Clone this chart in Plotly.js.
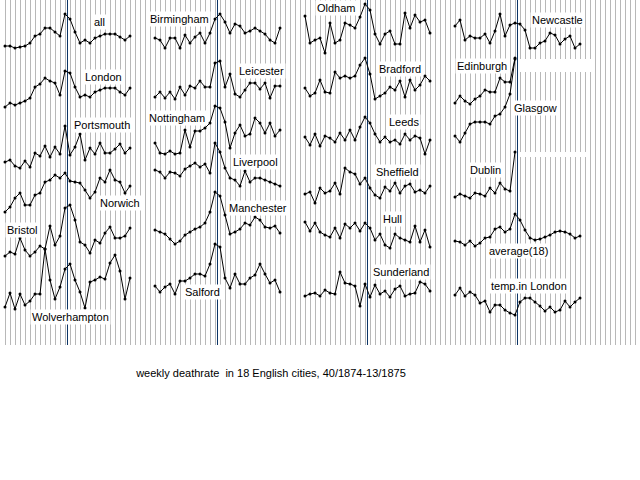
<!DOCTYPE html>
<html>
<head>
<meta charset="utf-8">
<script src="https://cdn.plot.ly/plotly-3.0.1.min.js"></script>
<style>html,body{margin:0;padding:0;background:#fff;}#chart{width:640px;height:480px;}</style>
</head>
<body>
<div id="chart"></div>
<script>
// weeks 40/1874 .. 13/1875
const weeks = ['40','41','42','43','44','45','46','47','48','49','50','51','52','1','2','3','4','5','6','7','8','9','10','11','12','13'];

// relative weekly death-rate levels (common scale)
const all = [2,2,0,1,2,5,12,14,20,20,16,12,34,29,16,5,8,5,10,12,14,14,14,11,8,12];
const london = [0,4,2,4,6,9,20,23,29,26,24,12,36,34,20,10,12,10,15,17,19,19,19,15,12,19];
const portsmouth = [6,8,2,0,7,1,15,12,22,11,21,14,42,13,21,34,8,20,14,25,15,15,19,24,15,20];
const norwich = [0,5,14,19,7,7,17,19,30,32,37,34,39,31,30,29,22,14,20,34,30,42,32,30,19,26];
const bristol = [0,4,2,18,6,0,4,10,7,30,11,20,48,51,36,14,11,3,16,13,23,29,18,18,20,28];
const wolverhampton = [2,16,0,15,4,8,15,15,60,29,10,22,40,45,29,17,1,27,29,32,30,46,54,38,10,31];
const birmingham = [10,8,0,10,10,0,13,5,11,15,5,15,29,34,26,15,24,22,15,17,20,17,14,8,5,20];
const leicester = [2,7,1,7,0,12,4,13,11,18,12,12,36,38,12,25,5,2,9,16,16,10,16,1,13,13];
const nottingham = [11,1,0,3,0,1,24,7,23,23,26,31,48,46,32,6,21,29,18,20,36,31,21,31,18,24];
const liverpool = [16,14,8,14,13,10,17,20,23,19,22,13,43,34,18,8,6,0,15,4,8,8,6,4,2,0];
const manchester = [14,12,10,5,0,3,9,12,15,17,21,32,52,48,29,10,12,15,21,19,27,24,17,16,18,11];
const salford = [8,2,7,10,0,13,13,16,20,20,18,30,50,47,16,6,20,10,10,16,19,30,20,11,14,2];
const oldham = [37,10,13,15,0,30,10,13,30,28,25,36,49,43,19,9,19,22,9,9,40,25,38,31,33,20];
const bradford = [11,3,6,19,7,6,27,21,23,21,23,34,41,25,0,3,6,12,9,18,2,19,9,14,23,18];
const leeds = [17,9,20,8,18,16,12,21,14,24,14,27,37,31,20,12,17,12,14,10,20,14,18,16,0,14];
const sheffield = [9,11,0,15,10,12,20,9,35,31,29,19,25,15,8,5,16,12,20,10,17,19,11,13,10,17];
const hull = [27,18,26,17,14,12,21,11,25,21,26,18,26,21,9,15,4,1,15,11,9,7,23,7,19,2];
const sunderland = [10,12,13,10,16,13,12,34,23,22,20,0,22,9,21,12,15,9,17,20,10,12,13,24,22,15];
const newcastle = [22,28,8,12,10,10,14,5,17,34,12,23,25,24,18,0,0,5,7,15,13,4,9,12,0,4];
const edinburgh = [1,8,3,0,5,8,14,12,12,26,22,22,46];
const glasgow = [6,0,9,18,20,20,20,18,26,28,35,48,83];
const dublin = [2,5,3,1,6,5,3,11,6,16,10,8,47];
const average18 = [5,4,1,5,0,3,8,9,17,19,14,17,32,26,16,8,6,7,9,11,14,15,14,12,8,10];
const tempLondon = [20,27,19,23,20,12,14,3,10,10,5,2,0,13,17,17,13,9,4,8,3,5,14,8,13,17];

const titleText = 'weekly deathrate \u00a0in 18 English cities, 40/1874-13/1875';

// panel placement (column, baseline pixel, label centre in pixels)
const panels = [
  {label:'all', data:all, col:0, base:48, lx:99, ly:22},
  {label:'London', data:london, col:0, base:107, lx:103, ly:77},
  {label:'Portsmouth', data:portsmouth, col:0, base:168, lx:102, ly:125},
  {label:'Norwich', data:norwich, col:0, base:212, lx:120, ly:203},
  {label:'Bristol', data:bristol, col:0, base:256, lx:22, ly:230},
  {label:'Wolverhampton', data:wolverhampton, col:0, base:309, lx:70, ly:317},
  {label:'Birmingham', data:birmingham, col:1, base:48, lx:179, ly:19},
  {label:'Leicester', data:leicester, col:1, base:99, lx:261, ly:71},
  {label:'Nottingham', data:nottingham, col:1, base:154, lx:177, ly:118},
  {label:'Liverpool', data:liverpool, col:1, base:186, lx:255, ly:162},
  {label:'Manchester', data:manchester, col:1, base:244, lx:258, ly:208},
  {label:'Salford', data:salford, col:1, base:294, lx:202, ly:292},
  {label:'Oldham', data:oldham, col:2, base:53, lx:336, ly:8},
  {label:'Bradford', data:bradford, col:2, base:99, lx:400, ly:69},
  {label:'Leeds', data:leeds, col:2, base:154, lx:404, ly:122},
  {label:'Sheffield', data:sheffield, col:2, base:203, lx:397, ly:172},
  {label:'Hull', data:hull, col:2, base:249, lx:392, ly:219},
  {label:'Sunderland', data:sunderland, col:2, base:306, lx:401, ly:272},
  {label:'Newcastle', data:newcastle, col:3, base:48, lx:557, ly:20},
  {label:'Edinburgh', data:edinburgh, col:3, base:104, lx:482, ly:66},
  {label:'Glasgow', data:glasgow, col:3, base:142, lx:535, ly:108},
  {label:'Dublin', data:dublin, col:3, base:199, lx:485, ly:170},
  {label:'average(18)', data:average18, col:3, base:246, lx:518, ly:251},
  {label:'temp.in London', data:tempLondon, col:3, base:315, lx:529, ly:286}
];

const W = 640, H = 480, GRID_BOTTOM = 345, COLW = 150;
const FONT = {family:'Arial, "Liberation Sans", sans-serif', size:11, color:'#000'};
const py = p => 1 - p / H;
const px = p => p / W;

const layout = {
  width: W, height: H,
  margin: {l:0, r:0, t:0, b:0, pad:0},
  paper_bgcolor: '#fff',
  plot_bgcolor: 'rgba(0,0,0,0)',
  showlegend: false,
  hovermode: false,
  title: {text: titleText, x: px(271), y: py(373), xref:'paper', yref:'paper', xanchor:'center', yanchor:'middle', font: FONT},
  // background grid subplot
  xaxis: {domain:[0,1], range:[0,W], tickmode:'linear', tick0:0, dtick:5, showgrid:true, gridcolor:'#b8b8b8', gridwidth:1,
          showticklabels:false, ticks:'', zeroline:false, showline:false, fixedrange:true, anchor:'y'},
  yaxis: {domain:[1 - GRID_BOTTOM / H, 1], range:[0,1], visible:false, fixedrange:true, anchor:'x'},
  annotations: [],
  shapes: []
};

const traces = [{x:[0], y:[0], xaxis:'x', yaxis:'y', mode:'markers', marker:{opacity:0}, hoverinfo:'skip'}];

for (let c = 0; c < 4; c++) {
  layout['xaxis' + (c + 2)] = {domain:[px(c * COLW), px((c + 1) * COLW)], range:[-1, 29], visible:false, fixedrange:true, anchor:'y2'};
  layout.shapes.push({type:'line', xref:'x' + (c + 2), yref:'paper', x0:12.5, x1:12.5, y0:py(GRID_BOTTOM), y1:1,
                      line:{color:'#0c3566', width:1}, layer:'below'});
}

panels.forEach((p, k) => {
  const ya = 'yaxis' + (k + 2);
  layout[ya] = {domain:[0,1], range:[p.base - H, p.base], visible:false, fixedrange:true, anchor:'x' + (p.col + 2)};
  traces.push({
    x: p.data.map((_, i) => i),
    y: p.data,
    text: p.data.map((_, i) => weeks[i]),
    xaxis: 'x' + (p.col + 2),
    yaxis: 'y' + (k + 2),
    mode: 'lines+markers',
    line: {color:'#000', width:1},
    marker: {color:'#000', size:3},
    hoverinfo: 'skip',
    cliponaxis: false
  });
  layout.annotations.push({
    text: p.label, xref:'paper', yref:'paper', x: px(p.lx), y: py(p.ly),
    xanchor:'center', yanchor:'middle', showarrow:false, font: FONT,
    bgcolor:'#fff', borderpad:1
  });
});

// white strips to the right of the truncated Edinburgh / Dublin series
layout.shapes.push({type:'rect', xref:'x5', yref:'paper', x0:12.8, x1:27.4, y0:py(72), y1:py(59), fillcolor:'#fff', line:{width:0}, layer:'above'});
layout.shapes.push({type:'rect', xref:'x5', yref:'paper', x0:12.8, x1:26.4, y0:py(157), y1:py(152), fillcolor:'#fff', line:{width:0}, layer:'above'});

Plotly.newPlot('chart', traces, layout, {staticPlot:true, displayModeBar:false});
</script>
</body>
</html>
